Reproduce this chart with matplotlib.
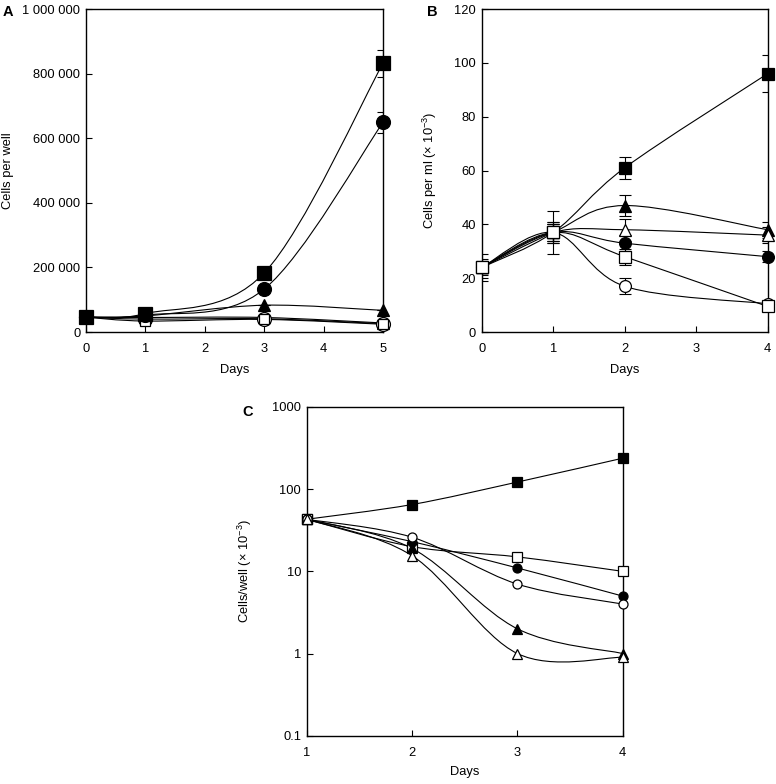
import numpy as np
import matplotlib
matplotlib.use("Agg")
import matplotlib.pyplot as plt
from matplotlib.path import Path
from matplotlib.patches import PathPatch
from matplotlib.ticker import FixedLocator, FixedFormatter, NullLocator

plt.rcParams["font.family"] = ["Liberation Sans", "DejaVu Sans"]
plt.rcParams["font.size"] = 9.3
plt.rcParams["mathtext.fontset"] = "custom"
plt.rcParams["mathtext.rm"] = "Liberation Sans"

# order: filled square, filled circle, filled triangle, open triangle, open circle, open square
markers = ["s", "o", "^", "^", "o", "s"]
filled = [True, True, True, False, False, False]

# ---- panel A: cells per well
days_a = [0, 1, 3, 5]
a_vals = [
    [46000, 57000, 183000, 832000],
    [46000, 52000, 133000, 649000],
    [46000, 50000, 83000, 67000],
    [46000, 45000, 45000, 28000],
    [46000, 40000, 41000, 26000],
    [46000, 34000, 39000, 24000],
]
a_err = [
    [0, 0, 0, 42000],
    [0, 0, 0, 33000],
    [0, 0, 0, 0],
    [0, 0, 0, 0],
    [0, 0, 0, 0],
    [0, 0, 0, 0],
]

# ---- panel B: cells per ml (x 10^-3)
days_b = [0, 1, 2, 4]
b_vals = [
    [24, 37, 61, 96],
    [24, 37, 33, 28],
    [24, 37, 47, 38],
    [24, 37, 38, 36],
    [24, 37, 17, 10.5],
    [24, 37, 28, 9.5],
]
b_err = [
    [2, 4, 4, 7],
    [2, 3, 3, 2],
    [2, 3, 4, 3],
    [2, 3, 4, 3],
    [3, 4, 3, 1],
    [5, 8, 3, 1],
]

# ---- panel C: cells/well (x 10^-3), log scale
days_c = [1, 2, 3, 4]
c_vals = [
    [43, 65, 122, 238],
    [43, 23, 11, 5],
    [43, 19, 2.0, 1.0],
    [43, 15.5, 1.0, 0.9],
    [43, 26, 7, 4],
    [43, 20, 15, 10],
]


def smooth_path(xs, ys, log=False):
    # excel-like smoothed line, drawn as cubic bezier segments
    x = np.asarray(xs, float)
    y = np.log10(ys) if log else np.asarray(ys, float)
    pts = np.column_stack([x, y])
    n = len(pts)
    verts = [pts[0]]
    codes = [Path.MOVETO]
    for i in range(n - 1):
        p0 = pts[i - 1] if i > 0 else pts[i]
        p1 = pts[i]
        p2 = pts[i + 1]
        p3 = pts[i + 2] if i + 2 < n else pts[i + 1]
        c1 = p1 + (p2 - p0) / 6.0
        c2 = p2 - (p3 - p1) / 6.0
        verts += [c1, c2, p2]
        codes += [Path.CURVE4] * 3
    verts = np.array(verts)
    if log:
        verts[:, 1] = 10 ** verts[:, 1]
    return Path(verts, codes)


def draw_series(ax, xs, vals, errs, sizes, zs, log=False):
    for k in range(len(vals)):
        y = vals[k]
        ax.add_patch(PathPatch(smooth_path(xs, y, log), fc="none", ec="black",
                               lw=0.8, zorder=2))
        if errs is not None:
            ax.errorbar(xs, y, yerr=errs[k], fmt="none", ecolor="black",
                        elinewidth=0.8, capsize=4, capthick=0.8, zorder=2.5)
        ax.plot(xs, y, linestyle="none", marker=markers[k], ms=sizes[k],
                mfc="black" if filled[k] else "white", mec="black", mew=0.9,
                zorder=zs[k], clip_on=False)


def style(ax):
    for s in ax.spines.values():
        s.set_linewidth(1.0)
    ax.tick_params(direction="in", length=4, width=0.8)
    ax.tick_params(axis="x", pad=8)
    ax.tick_params(axis="y", pad=4)


fig = plt.figure(figsize=(7.76, 7.84), dpi=100)

# panel A
axA = fig.add_axes([0.1108, 0.5765, 0.3828, 0.4120])
draw_series(axA, days_a, a_vals, a_err, [9.5, 10, 8, 8, 10, 6.5],
            [3.5, 3.6, 3.0, 3.05, 3.1, 3.2])
axA.set_xlim(0, 5)
axA.set_ylim(0, 1000000)
axA.yaxis.set_major_locator(FixedLocator([0, 200000, 400000, 600000, 800000, 1000000]))
axA.yaxis.set_major_formatter(FixedFormatter(["0", "200 000", "400 000", "600 000",
                                              "800 000", "1 000 000"]))
axA.set_xticks([0, 1, 2, 3, 4, 5])
axA.set_xlabel("Days")
axA.set_ylabel("Cells per well")
axA.xaxis.set_label_coords(0.5, -0.099)
axA.yaxis.set_label_coords(-0.242, 0.5)
style(axA)

# panel B
axB = fig.add_axes([0.6207, 0.5765, 0.3686, 0.4120])
draw_series(axB, days_b, b_vals, b_err, [8.5, 8.5, 8.5, 8.5, 8.5, 8.5],
            [3.0, 3.1, 3.2, 3.3, 3.4, 3.5])
axB.set_xlim(0, 4)
axB.set_ylim(0, 120)
axB.set_yticks([0, 20, 40, 60, 80, 100, 120])
axB.set_xticks([0, 1, 2, 3, 4])
axB.set_xlabel("Days")
axB.set_ylabel(r"Cells per ml ($\times$ 10$^{-3}$)")
axB.xaxis.set_label_coords(0.5, -0.099)
axB.yaxis.set_label_coords(-0.149, 0.5)
style(axB)

# panel C
axC = fig.add_axes([0.3952, 0.0616, 0.4072, 0.4193])
axC.set_yscale("log")
draw_series(axC, days_c, c_vals, None, [7, 6.5, 7, 7, 6.5, 7],
            [3.0, 3.1, 3.2, 3.4, 3.3, 3.05], log=True)
axC.set_xlim(1, 4)
axC.set_ylim(0.1, 1000)
axC.yaxis.set_major_locator(FixedLocator([0.1, 1, 10, 100, 1000]))
axC.yaxis.set_major_formatter(FixedFormatter(["0.1", "1", "10", "100", "1000"]))
axC.yaxis.set_minor_locator(NullLocator())
axC.set_xticks([1, 2, 3, 4])
axC.set_xlabel("Days")
axC.set_ylabel(r"Cells/well ($\times$ 10$^{-3}$)")
axC.xaxis.set_label_coords(0.5, -0.092)
axC.yaxis.set_label_coords(-0.167, 0.5)
style(axC)

fig.text(0.004, 0.994, "A", fontsize=10.5, fontweight="bold", va="top")
fig.text(0.550, 0.994, "B", fontsize=10.5, fontweight="bold", va="top")
fig.text(0.312, 0.483, "C", fontsize=10.5, fontweight="bold", va="top")

fig.savefig("out.png", dpi=100)
